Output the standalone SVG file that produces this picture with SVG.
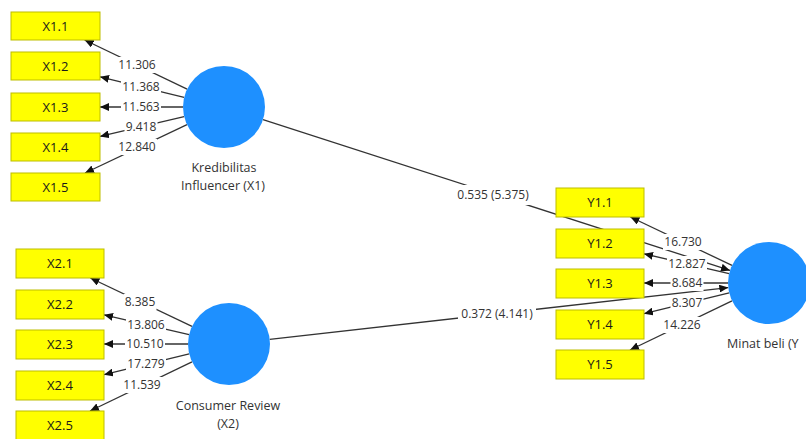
<svg xmlns="http://www.w3.org/2000/svg" width="806" height="439" viewBox="0 0 806 439">
<defs>
<marker id="ah" markerWidth="9" markerHeight="8" refX="9" refY="4" orient="auto" markerUnits="userSpaceOnUse">
<path d="M0,0 L9,4 L0,8 z" fill="#111"/>
</marker>
<style>
.ln{stroke:#333;stroke-width:1.3;fill:none;marker-end:url(#ah)}
.bg{fill:#fff}
.lb{font-family:"Open Sans","Liberation Sans",sans-serif;font-size:12px;fill:#333;text-anchor:middle}
.box{fill:#ffff00;stroke:#bdbd00;stroke-width:1}
.bt{font-family:"Open Sans","Liberation Sans",sans-serif;font-size:13px;fill:#1a1a1a;text-anchor:middle}
.lv{fill:#1e90ff}
.nt{font-family:"Open Sans","Liberation Sans",sans-serif;font-size:12.5px;fill:#333;text-anchor:middle}
</style>
</defs>
<rect width="806" height="439" fill="#fff"/>
<g id="connectors">
<line class="ln" x1="263" y1="119.6" x2="730" y2="270.4"/>
<line class="ln" x1="269.7" y1="339.4" x2="728.3" y2="287.6"/>
<line class="ln" x1="187.1" y1="89.2" x2="84.6" y2="40"/>
<line class="ln" x1="184.1" y1="97.3" x2="100" y2="76.8"/>
<line class="ln" x1="183" y1="107" x2="100" y2="107"/>
<line class="ln" x1="184.1" y1="116.7" x2="100" y2="136.4"/>
<line class="ln" x1="187" y1="124.6" x2="85" y2="173"/>
<line class="ln" x1="192" y1="326.4" x2="90.4" y2="278"/>
<line class="ln" x1="189.1" y1="334.7" x2="104" y2="314.8"/>
<line class="ln" x1="188" y1="344" x2="104" y2="344"/>
<line class="ln" x1="189.2" y1="353.8" x2="104" y2="374.7"/>
<line class="ln" x1="192" y1="361.8" x2="90" y2="411"/>
<line class="ln" x1="732" y1="265.4" x2="630.4" y2="217"/>
<line class="ln" x1="729.1" y1="273.7" x2="644" y2="253.8"/>
<line class="ln" x1="728" y1="283" x2="644" y2="283"/>
<line class="ln" x1="729.2" y1="292.8" x2="644" y2="313.7"/>
<line class="ln" x1="732" y1="300.8" x2="630" y2="350"/>
<g id="labels">
<rect class="bg" x="454" y="185" width="78" height="20"/><text class="lb" x="493" y="199">0.535 (5.375)</text>
<rect class="bg" x="458" y="304" width="78" height="20"/><text class="lb" x="497" y="318">0.372 (4.141)</text>
<rect class="bg" x="117" y="57" width="40" height="16"/><text class="lb" x="137" y="69">11.306</text>
<rect class="bg" x="121" y="79" width="40" height="16"/><text class="lb" x="141" y="91">11.368</text>
<rect class="bg" x="121" y="99" width="40" height="16"/><text class="lb" x="141" y="111">11.563</text>
<rect class="bg" x="124.5" y="119" width="33" height="16"/><text class="lb" x="141" y="131">9.418</text>
<rect class="bg" x="117" y="139" width="40" height="16"/><text class="lb" x="137" y="151">12.840</text>
<rect class="bg" x="123.5" y="294" width="33" height="16"/><text class="lb" x="140" y="306">8.385</text>
<rect class="bg" x="126" y="317" width="40" height="16"/><text class="lb" x="146" y="329">13.806</text>
<rect class="bg" x="125" y="336" width="40" height="16"/><text class="lb" x="145" y="348">10.510</text>
<rect class="bg" x="126" y="356" width="40" height="16"/><text class="lb" x="146" y="368">17.279</text>
<rect class="bg" x="122" y="377" width="40" height="16"/><text class="lb" x="142" y="389">11.539</text>
<rect class="bg" x="663" y="234" width="40" height="16"/><text class="lb" x="683" y="246">16.730</text>
<rect class="bg" x="667" y="256" width="40" height="16"/><text class="lb" x="687" y="268">12.827</text>
<rect class="bg" x="670.5" y="275" width="33" height="16"/><text class="lb" x="687" y="287">8.684</text>
<rect class="bg" x="670.5" y="295" width="33" height="16"/><text class="lb" x="687" y="307">8.307</text>
<rect class="bg" x="662" y="317" width="40" height="16"/><text class="lb" x="682" y="329">14.226</text>
</g>
</g>
<g id="X1.1"><rect class="box" x="11" y="12" width="89" height="28"/><text class="bt" x="55.5" y="30.5">X1.1</text></g>
<g id="X1.2"><rect class="box" x="11" y="52" width="89" height="28"/><text class="bt" x="55.5" y="70.5">X1.2</text></g>
<g id="X1.3"><rect class="box" x="11" y="93" width="89" height="28"/><text class="bt" x="55.5" y="111.5">X1.3</text></g>
<g id="X1.4"><rect class="box" x="11" y="133" width="89" height="28"/><text class="bt" x="55.5" y="151.5">X1.4</text></g>
<g id="X1.5"><rect class="box" x="11" y="173" width="89" height="28"/><text class="bt" x="55.5" y="191.5">X1.5</text></g>
<g id="X2.1"><rect class="box" x="16" y="249" width="88" height="29"/><text class="bt" x="60" y="268">X2.1</text></g>
<g id="X2.2"><rect class="box" x="16" y="290" width="88" height="29"/><text class="bt" x="60" y="309">X2.2</text></g>
<g id="X2.3"><rect class="box" x="16" y="330" width="88" height="29"/><text class="bt" x="60" y="349">X2.3</text></g>
<g id="X2.4"><rect class="box" x="16" y="371" width="88" height="29"/><text class="bt" x="60" y="390">X2.4</text></g>
<g id="X2.5"><rect class="box" x="16" y="411" width="88" height="29"/><text class="bt" x="60" y="430">X2.5</text></g>
<g id="Y1.1"><rect class="box" x="556" y="188" width="88" height="29"/><text class="bt" x="600" y="207">Y1.1</text></g>
<g id="Y1.2"><rect class="box" x="556" y="229" width="88" height="29"/><text class="bt" x="600" y="248">Y1.2</text></g>
<g id="Y1.3"><rect class="box" x="556" y="269" width="88" height="29"/><text class="bt" x="600" y="288">Y1.3</text></g>
<g id="Y1.4"><rect class="box" x="556" y="310" width="88" height="29"/><text class="bt" x="600" y="329">Y1.4</text></g>
<g id="Y1.5"><rect class="box" x="556" y="350" width="88" height="29"/><text class="bt" x="600" y="369">Y1.5</text></g>
<g id="X1"><circle class="lv" cx="224" cy="107" r="41"/><text class="nt" x="224" y="172">Kredibilitas</text><text class="nt" x="223" y="190">Influencer (X1)</text></g>
<g id="X2"><circle class="lv" cx="229" cy="344" r="41"/><text class="nt" x="228" y="410">Consumer Review</text><text class="nt" x="228" y="428">(X2)</text></g>
<g id="Y"><circle class="lv" cx="769" cy="283" r="41"/><text class="nt" x="727" y="348" style="text-anchor:start">Minat beli (Y</text></g>
</svg>
